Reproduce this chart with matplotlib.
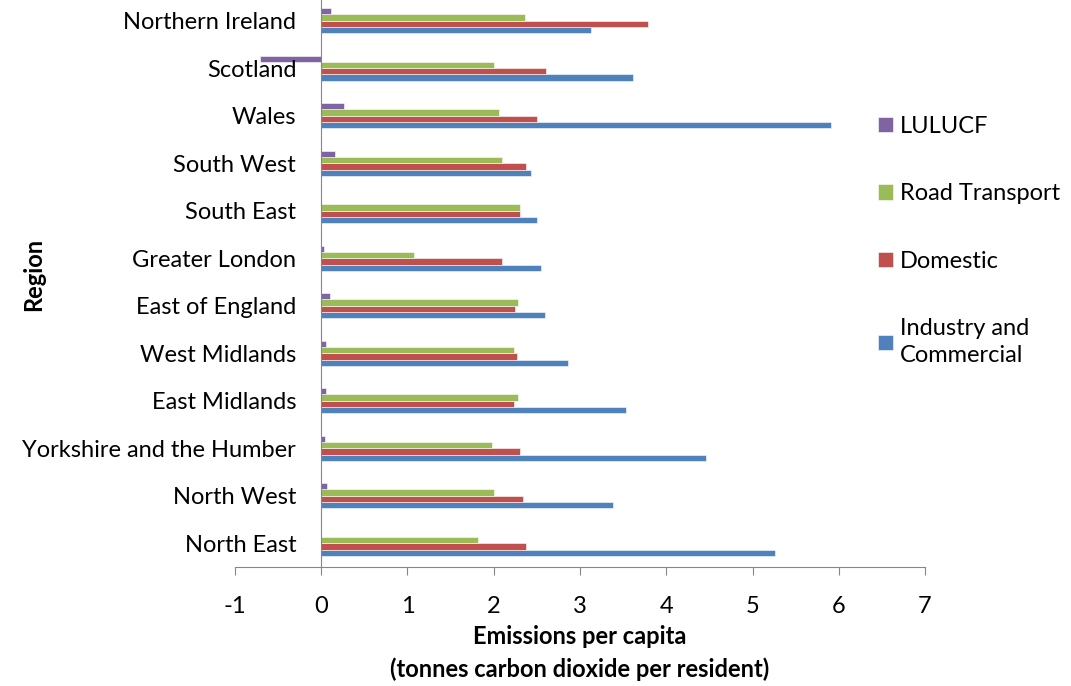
import numpy as np
import matplotlib
matplotlib.use("Agg")
import matplotlib.pyplot as plt

# categories listed bottom to top as they appear on the chart
regions = ['North East', 'North West', 'Yorkshire and the Humber', 'East Midlands',
           'West Midlands', 'East of England', 'Greater London', 'South East',
           'South West', 'Wales', 'Scotland', 'Northern Ireland']

industry = [5.26, 3.38, 4.46, 3.53, 2.86, 2.59, 2.55, 2.50, 2.43, 5.91, 3.62, 3.13]
domestic = [2.37, 2.34, 2.30, 2.24, 2.27, 2.25, 2.09, 2.30, 2.37, 2.50, 2.61, 3.79]
road = [1.82, 2.00, 1.98, 2.28, 2.24, 2.28, 1.08, 2.30, 2.10, 2.06, 2.00, 2.36]
lulucf = [0.00, 0.07, 0.04, 0.05, 0.05, 0.10, 0.03, 0.00, 0.16, 0.26, -0.71, 0.11]

xticks = [-1, 0, 1, 2, 3, 4, 5, 6, 7]

plt.rcParams['font.family'] = ['Lato', 'DejaVu Sans']
fs = 17

fig = plt.figure(figsize=(10.71, 6.86), dpi=100)
ax = fig.add_axes([0.2194, 0.1735, 0.6443, 0.8310])

y = np.arange(len(regions))
h = 0.133
series = [
	(industry, 'Industry and\nCommercial', '#4F81BD', -1.5),
	(domestic, 'Domestic', '#C0504D', -0.5),
	(road, 'Road Transport', '#9BBB59', 0.5),
	(lulucf, 'LULUCF', '#8064A2', 1.5),
]
handles = []
for values, label, color, off in series:
	b = ax.barh(y + off * h, values, height=h, color=color, label=label,
	            edgecolor='#ffffff', linewidth=0.4)
	handles.append(b)

# vertical axis crosses at zero (must come before the tick labels are set)
ax.spines['top'].set_visible(False)
ax.spines['right'].set_visible(False)
ax.spines['left'].set_position(('data', 0))
ax.spines['left'].set_color('#868686')
ax.spines['bottom'].set_color('#868686')

ax.set_xlim(-1, 7)
ax.set_ylim(-0.5, len(regions) - 0.5)
ax.set_xticks(xticks)
ax.set_xticklabels([str(t) for t in xticks], fontsize=fs)
ax.set_yticks(y)
ax.set_yticklabels(regions, fontsize=fs)
ax.tick_params(axis='y', length=0, pad=18)
ax.tick_params(axis='x', direction='out', length=6, color='#868686', pad=15)

ax.set_xlabel('Emissions per capita\n(tonnes carbon dioxide per resident)',
              fontsize=fs, fontweight='bold', labelpad=6, linespacing=1.45)
fig.text(0.031, 0.60, 'Region', rotation=90, fontsize=fs, fontweight='bold',
         ha='center', va='center')

leg = fig.legend(handles[::-1], [s[1] for s in series[::-1]],
                 loc='upper left', bbox_to_anchor=(0.8198, 0.831), frameon=False,
                 fontsize=fs, labelspacing=1.97, handlelength=0.64, handleheight=0.64,
                 handletextpad=0.3, borderpad=0, borderaxespad=0)
for t in leg.get_texts():
	t.set_linespacing(1.35)

fig.savefig('out.png', dpi=100)
